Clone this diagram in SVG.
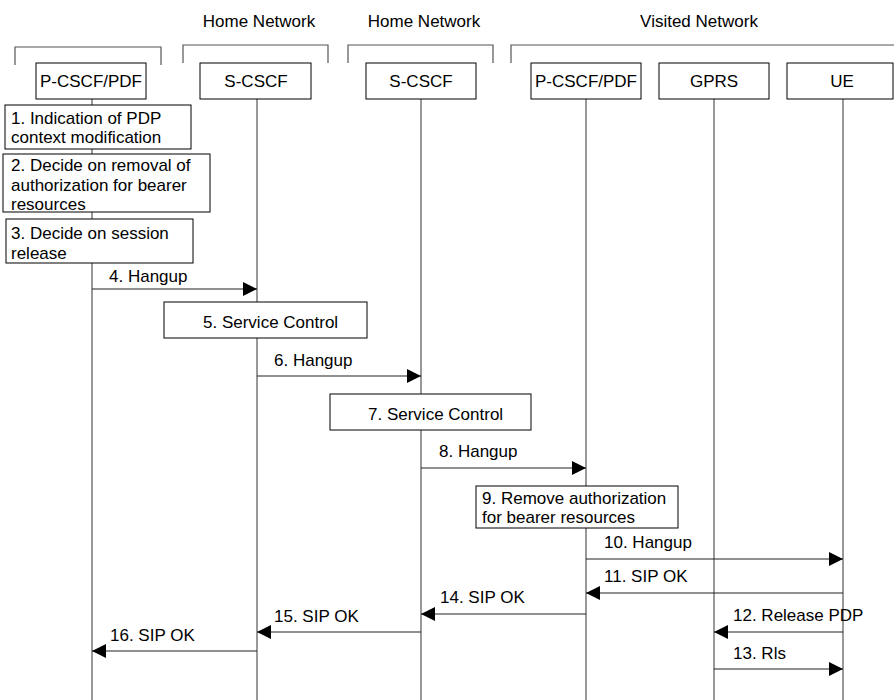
<svg xmlns="http://www.w3.org/2000/svg" width="894" height="700" viewBox="0 0 894 700">
<style>
text{font-family:"Liberation Sans",Arial,sans-serif;font-size:17px;fill:#000}
.mid{text-anchor:middle}
.box{fill:#fff;stroke:#000;stroke-width:1}
.life{stroke:#555;stroke-width:1.2}
.br{fill:none;stroke:#555;stroke-width:1.2}
.msg{stroke:#222;stroke-width:1.2;fill:none;marker-end:url(#ah)}
</style>
<defs>
<marker id="ah" viewBox="0 0 14 14" refX="14" refY="7" markerWidth="14" markerHeight="14" markerUnits="userSpaceOnUse" orient="auto">
<path d="M0,0 L14,7 L0,14 z" fill="#000"/>
</marker>
</defs>
<rect width="894" height="700" fill="#fff"/>
<g id="headers">
<text class="mid" x="259" y="27">Home Network</text>
<text class="mid" x="424" y="27">Home Network</text>
<text class="mid" x="699" y="27">Visited Network</text>
<path class="br" d="M15,65 V47 H161 V65"/>
<path class="br" d="M183,63 V45 H328 V63"/>
<path class="br" d="M348,63 V45 H493 V63"/>
<path class="br" d="M511,63 V45 H894"/>
</g>
<g id="lifelines">
<line class="life" x1="92" y1="99" x2="92" y2="700"/>
<line class="life" x1="257" y1="99" x2="257" y2="700"/>
<line class="life" x1="421" y1="99" x2="421" y2="700"/>
<line class="life" x1="586" y1="99" x2="586" y2="700"/>
<line class="life" x1="714" y1="99" x2="714" y2="700"/>
<line class="life" x1="843" y1="99" x2="843" y2="700"/>
</g>
<g id="pcscf1"><rect class="box" x="36" y="63" width="110" height="36"/><text class="mid" x="91" y="87">P-CSCF/PDF</text></g>
<g id="scscf1"><rect class="box" x="200" y="63" width="111" height="36"/><text class="mid" x="256" y="87">S-CSCF</text></g>
<g id="scscf2"><rect class="box" x="366" y="63" width="110" height="36"/><text class="mid" x="421" y="87">S-CSCF</text></g>
<g id="pcscf2"><rect class="box" x="531" y="63" width="110" height="36"/><text class="mid" x="586" y="87">P-CSCF/PDF</text></g>
<g id="gprs"><rect class="box" x="659" y="63" width="110" height="36"/><text class="mid" x="714" y="87">GPRS</text></g>
<g id="ue"><rect class="box" x="787" y="63" width="106" height="36"/><text class="mid" x="842" y="87">UE</text></g>
<g id="connectors">
<line class="msg" x1="92" y1="289" x2="257" y2="289"/>
<text x="109" y="282">4. Hangup</text>
<line class="msg" x1="257" y1="376" x2="421" y2="376"/>
<text x="274" y="366">6. Hangup</text>
<line class="msg" x1="421" y1="468" x2="586" y2="468"/>
<text x="439" y="457">8. Hangup</text>
<line class="msg" x1="586" y1="559" x2="843" y2="559"/>
<text x="604" y="548">10. Hangup</text>
<line class="msg" x1="843" y1="593" x2="586" y2="593"/>
<text x="604" y="582">11. SIP OK</text>
<line class="msg" x1="843" y1="632" x2="714" y2="632"/>
<text x="733" y="621">12. Release PDP</text>
<line class="msg" x1="714" y1="669" x2="843" y2="669"/>
<text x="733" y="659">13. Rls</text>
<line class="msg" x1="586" y1="614" x2="421" y2="614"/>
<text x="440" y="603">14. SIP OK</text>
<line class="msg" x1="421" y1="632" x2="257" y2="632"/>
<text x="274" y="622">15. SIP OK</text>
<line class="msg" x1="257" y1="651" x2="92" y2="651"/>
<text x="110" y="641">16. SIP OK</text>
</g>
<g id="step1"><rect class="box" x="5" y="105" width="186" height="44"/><text x="11" y="124">1. Indication of PDP</text><text x="11" y="143">context modification</text></g>
<g id="step2"><rect class="box" x="3" y="154" width="207" height="58"/><text x="11" y="171">2. Decide on removal of</text><text x="11" y="191">authorization for bearer</text><text x="11" y="210">resources</text></g>
<g id="step3"><rect class="box" x="6" y="219" width="187" height="44"/><text x="11" y="239">3. Decide on session</text><text x="11" y="259">release</text></g>
<g id="step5"><rect class="box" x="164" y="302" width="203" height="36"/><text x="203" y="328">5. Service Control</text></g>
<g id="step7"><rect class="box" x="330" y="394" width="201" height="36"/><text x="368" y="420">7. Service Control</text></g>
<g id="step9"><rect class="box" x="476" y="486" width="202" height="42"/><text x="482" y="504">9. Remove authorization</text><text x="482" y="523">for bearer resources</text></g>
</svg>
